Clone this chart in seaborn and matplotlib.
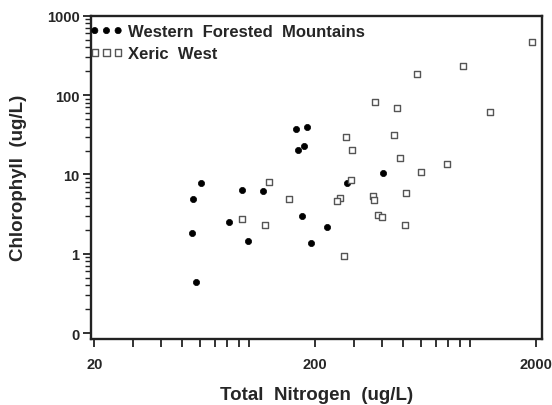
import numpy as np
import pandas as pd
import matplotlib
matplotlib.use('Agg')
import matplotlib.pyplot as plt
import seaborn as sns

# ── data ─────────────────────────────────────────────────────
wfm_tn = [60.8, 55.7, 93.5, 116.3, 81.8, 55.5, 98.9, 57.7, 173.6, 227,
          191.8, 279, 164, 182.9, 167, 177.8, 403.6]
wfm_chl = [7.9, 4.9, 6.4, 6.1, 2.54, 1.83, 1.45, 0.445, 2.98, 2.19,
           1.38, 7.86, 37.3, 39.2, 20.1, 22.7, 10.3]

xw_tn = [123.8, 152, 93.4, 118.7, 257.8, 250.7, 290, 269.7, 372.5, 467,
         275.4, 452.7, 292, 485, 599.7, 791, 366, 368, 514.6, 384.3,
         400.6, 509, 1918, 929, 578.8, 1234]
xw_chl = [7.98, 4.94, 2.75, 2.30, 5.06, 4.66, 8.46, 0.926, 81.6, 68.5,
          29.8, 31.3, 20.1, 15.9, 10.7, 13.5, 5.29, 4.73, 5.86, 3.04,
          2.88, 2.31, 466, 231, 183.5, 61.6]

regions = ['Western  Forested  Mountains', 'Xeric  West']

x_major = [20, 200, 2000]
x_major_labels = ['20', '200', '2000']
y_major = [0.1, 1, 10, 100, 1000]
y_major_labels = ['0', '1', '10', '100', '1000']

df = pd.DataFrame({
    'tn': wfm_tn + xw_tn,
    'chl': wfm_chl + xw_chl,
    'region': [regions[0]] * len(wfm_tn) + [regions[1]] * len(xw_tn),
})

# ── style ────────────────────────────────────────────────────
sns.set_style('ticks')
plt.rcParams['font.family'] = ['Liberation Sans', 'DejaVu Sans']
plt.rcParams['font.weight'] = 'bold'

fig = plt.figure(figsize=(5.52, 4.06), dpi=100)
ax = fig.add_axes([0.1643, 0.1626, 0.817, 0.7963])

sns.scatterplot(data=df[df.region == regions[0]], x='tn', y='chl',
                marker='o', s=20, color='black', edgecolor='black',
                linewidth=0.5, label=regions[0], ax=ax)
sns.scatterplot(data=df[df.region == regions[1]], x='tn', y='chl',
                marker='s', s=22, facecolor='white', edgecolor='#555555',
                linewidth=1.0, label=regions[1], ax=ax)

ax.set_xscale('log')
ax.set_yscale('log')
ax.set_xlim(19.27, 2116)
ax.set_ylim(0.0844, 1000)

ax.set_xticks(x_major)
ax.set_xticklabels(x_major_labels)
x_minor = [v * d for d in (10, 100) for v in range(3, 11)]
ax.set_xticks(x_minor, minor=True)
ax.set_yticks(y_major)
ax.set_yticklabels(y_major_labels)
y_minor = [v * d for d in (0.1, 1, 10, 100) for v in range(2, 10)]
ax.set_yticks(y_minor, minor=True)
ax.tick_params(axis='y', which='minor', labelleft=False)
ax.tick_params(axis='x', which='minor', labelbottom=False)

ax.tick_params(axis='x', which='both', direction='out', length=6,
               width=1.3, pad=7, labelsize=10.5, color='#222222')
ax.tick_params(axis='y', which='major', direction='out', length=6,
               width=1.3, pad=2, labelsize=10.5, color='#222222')
ax.tick_params(axis='y', which='minor', direction='out', length=4,
               width=1.0, color='#222222')

for sp in ax.spines.values():
    sp.set_linewidth(1.7)
    sp.set_color('#222222')

ax.set_xlabel('Total  Nitrogen  (ug/L)', fontsize=13.5, fontweight='bold',
              labelpad=11)
ax.set_ylabel('Chlorophyll  (ug/L)', fontsize=13.5, fontweight='bold',
              labelpad=14)

leg = ax.legend(loc='upper left', bbox_to_anchor=(-0.002, 0.973),
                frameon=False, scatterpoints=3, scatteryoffsets=[0.5],
                fontsize=12, handletextpad=0.3, borderaxespad=0,
                borderpad=0, labelspacing=0.4, handlelength=2.0)
for t in leg.get_texts():
    t.set_fontweight('bold')

fig.savefig('out.png', dpi=100)
plt.close()
